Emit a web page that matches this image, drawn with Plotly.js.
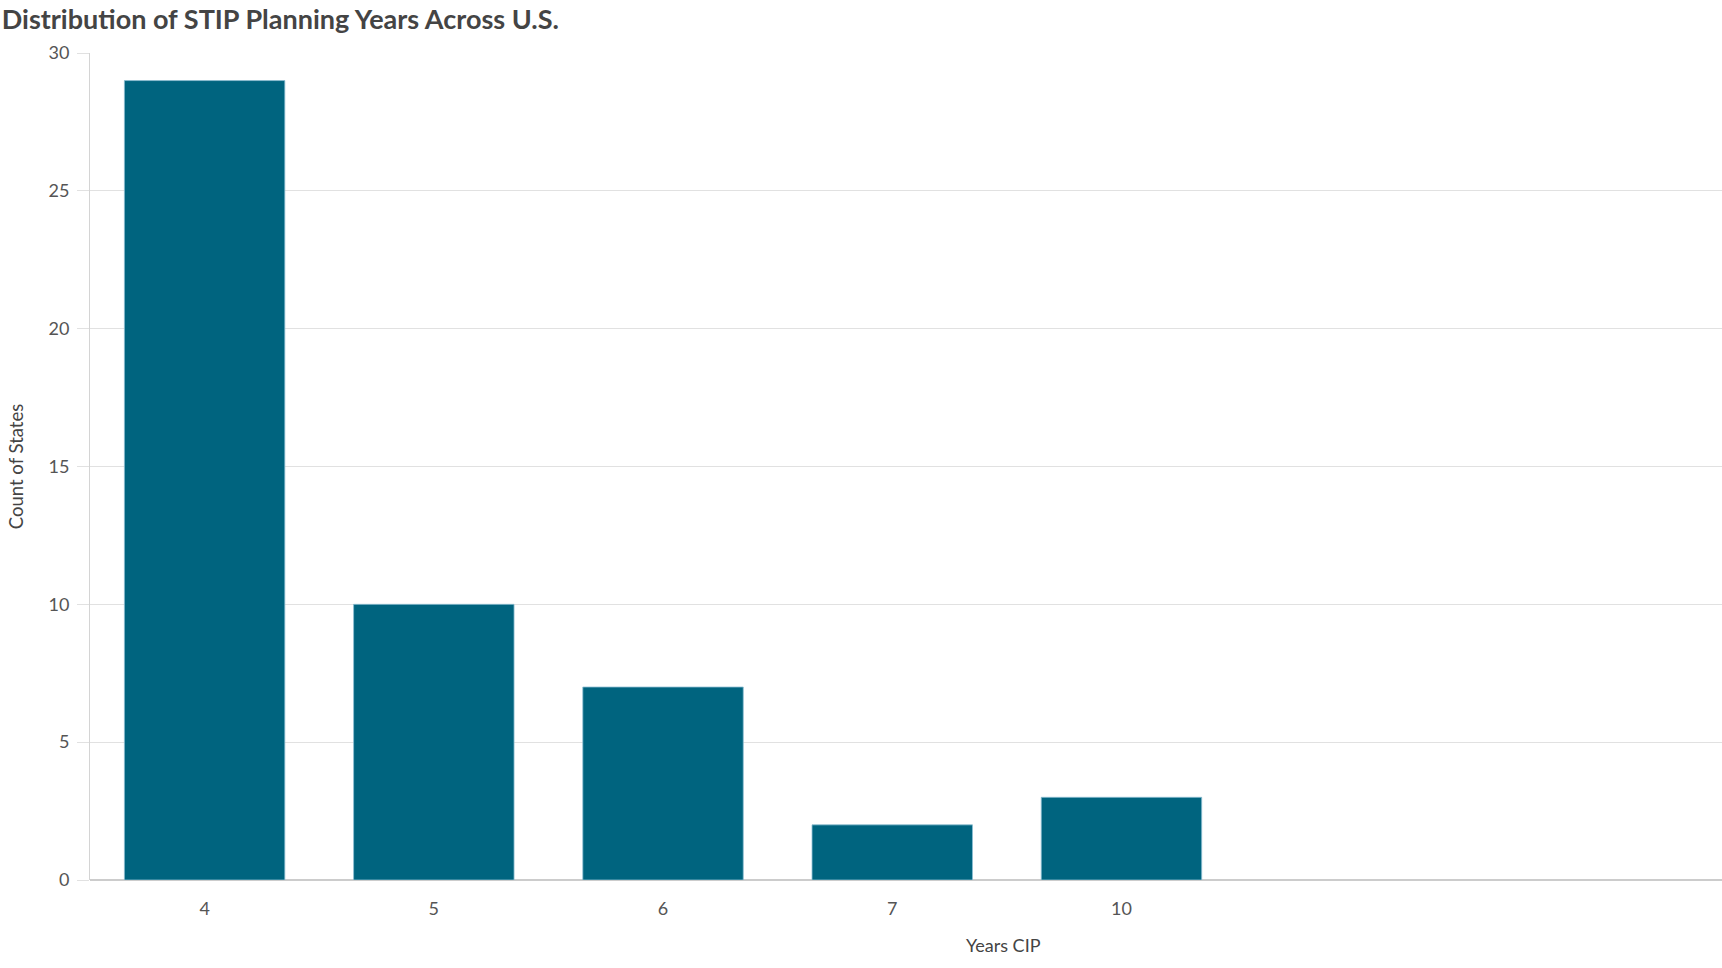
<!DOCTYPE html>
<html>
<head>
<meta charset="utf-8">
<script src="https://cdn.plot.ly/plotly-3.0.1.min.js"></script>
<style>
  html, body { margin: 0; padding: 0; background: #fff; }
  #chart { width: 1722px; height: 968px; }
</style>
</head>
<body>
<div id="chart"></div>
<script>
'use strict';

// years of planning horizon in each state's STIP
var yearsCip = ['4', '5', '6', '7', '10'];
var stateCounts = [29, 10, 7, 2, 3];
var yTicks = [0, 5, 10, 15, 20, 25, 30];

var textGrey = '#555555';
var gridGrey = '#e1e1e1';

var trace = {
    type: 'bar',
    x: yearsCip,
    y: stateCounts,
    marker: {
        color: '#00647f',
        line: { color: 'rgba(140,190,210,0.8)', width: 1 }
    },
    hoverinfo: 'x+y'
};

var layout = {
    width: 1722,
    height: 968,
    margin: { l: 90, r: 0, t: 53, b: 88 },
    paper_bgcolor: '#ffffff',
    plot_bgcolor: '#ffffff',
    font: { family: 'Lato, "Open Sans", sans-serif', size: 18, color: textGrey },
    showlegend: false,
    bargap: 0.3,
    title: {
        text: 'Distribution of STIP Planning Years Across U.S.',
        font: { family: 'Lato, sans-serif', size: 27, color: '#444444', weight: 700 },
        xref: 'container', yref: 'container',
        x: 0.001, xanchor: 'left',
        y: 0.98, yanchor: 'middle'
    },
    xaxis: {
        type: 'category',
        range: [-0.5, 6.62],
        showgrid: false,
        showline: false,
        zeroline: false,
        ticks: 'outside',
        ticklen: 12,
        tickcolor: 'rgba(0,0,0,0)',
        tickfont: { size: 18, color: textGrey }
    },
    yaxis: {
        range: [0, 30],
        tickvals: yTicks,
        ticktext: yTicks.map(String),
        showgrid: true,
        gridcolor: gridGrey,
        gridwidth: 1,
        showline: true,
        linecolor: '#d4d4d4',
        linewidth: 1,
        zeroline: true,
        zerolinecolor: '#cccccc',
        zerolinewidth: 2,
        ticks: 'outside',
        ticklen: 12,
        tickcolor: gridGrey,
        ticklabelstandoff: 4,
        tickfont: { size: 18, color: textGrey },
        title: {
            text: 'Count of States',
            font: { size: 18.5, color: '#444444' },
            standoff: 20
        }
    },
    annotations: [{
        text: 'Years CIP',
        xref: 'paper', yref: 'paper',
        x: 0.56, y: -0.079,
        xanchor: 'center', yanchor: 'middle',
        showarrow: false,
        font: { size: 18, color: '#444444' }
    }]
};

Plotly.newPlot('chart', [trace], layout, { displayModeBar: false, responsive: false });
</script>
</body>
</html>
